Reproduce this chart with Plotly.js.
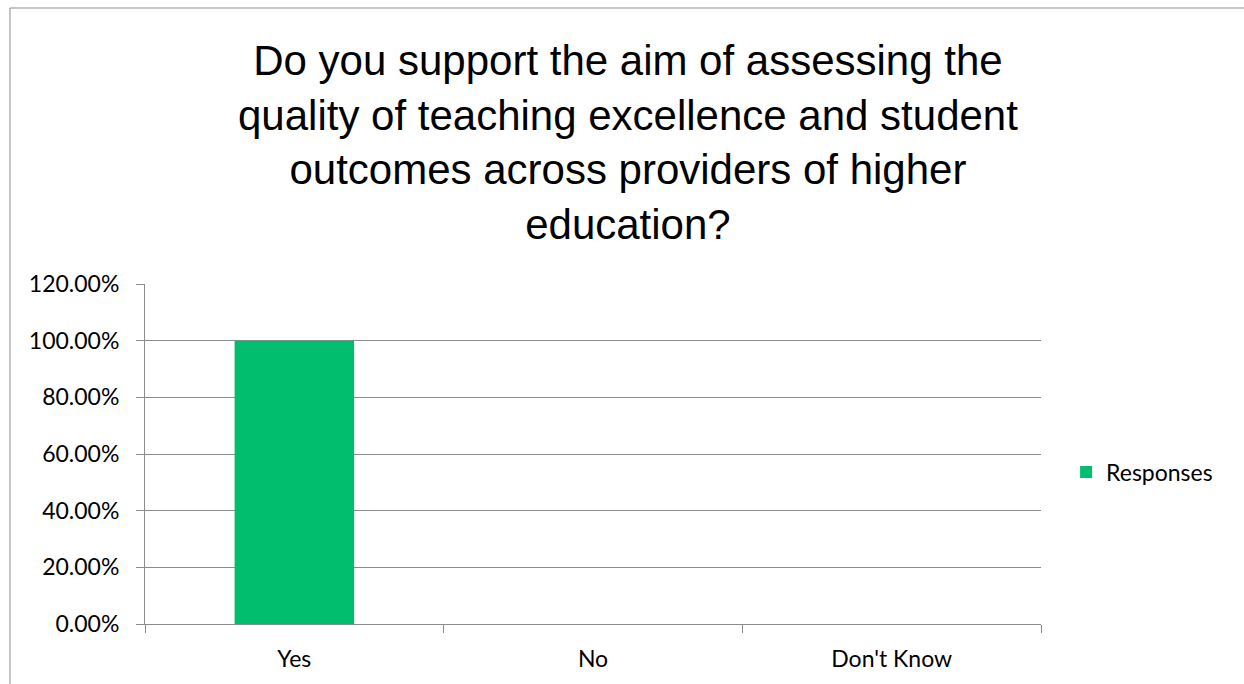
<!DOCTYPE html>
<html>
<head>
<meta charset="utf-8">
<script src="https://cdn.plot.ly/plotly-3.0.1.min.js"></script>
<style>
html,body{margin:0;padding:0;background:#fff;}
#chart{width:1244px;height:684px;}
</style>
</head>
<body>
<div id="chart"></div>
<script>
var categories = ["Yes", "No", "Don't Know"];
var responses = [1.0, 0, 0];
var seriesName = "Responses";
var yTicks = [0, 0.2, 0.4, 0.6, 0.8, 1.0, 1.2];
var chartTitle = "Do you support the aim of assessing the<br>quality of teaching excellence and student<br>outcomes across providers of higher<br>education?";

var gray = "#8c8c8c";
var tickFont = {family: "Lato, 'Open Sans', sans-serif", size: 23, color: "#000"};

var trace = {
  type: "bar",
  x: categories,
  y: responses,
  name: seriesName,
  marker: {color: "#00BE6E"},
  showlegend: true,
  hoverinfo: "x+y"
};

var layout = {
  width: 1244,
  height: 684,
  margin: {l: 145, r: 203, t: 284, b: 60, pad: 0},
  paper_bgcolor: "#fff",
  plot_bgcolor: "#fff",
  bargap: 0.6,
  title: {
    text: chartTitle,
    font: {family: "'Liberation Sans', Arial, sans-serif", size: 42, color: "#000"},
    x: 0.539,
    xanchor: "center",
    xref: "paper",
    y: 0.89,
    yanchor: "top",
    yref: "container"
  },
  xaxis: {
    type: "category",
    showline: true,
    linecolor: gray,
    linewidth: 1,
    ticks: "outside",
    tickson: "boundaries",
    ticklen: 8,
    tickcolor: gray,
    showgrid: false,
    tickfont: tickFont,
    ticklabelstandoff: 14,
    fixedrange: true
  },
  yaxis: {
    range: [0, 1.2],
    tickvals: yTicks,
    tickformat: ".2%",
    showline: true,
    linecolor: gray,
    linewidth: 1,
    ticks: "outside",
    ticklen: 8,
    tickcolor: gray,
    showgrid: true,
    gridcolor: gray,
    gridwidth: 1,
    zeroline: false,
    tickfont: tickFont,
    ticklabelstandoff: 12,
    fixedrange: true
  },
  legend: {
    x: 1.028,
    xanchor: "left",
    y: 0.447,
    yanchor: "middle",
    font: tickFont,
    itemwidth: 30,
    bgcolor: "rgba(0,0,0,0)"
  },
  shapes: [
    {type: "line", xref: "paper", yref: "paper", x0: -0.1507, x1: -0.1507, y0: 1.8118, y1: -0.2, line: {color: gray, width: 1}},
    {type: "line", xref: "paper", yref: "paper", x0: -0.1507, x1: 1.3, y0: 1.8118, y1: 1.8118, line: {color: gray, width: 1}}
  ]
};

Plotly.newPlot("chart", [trace], layout, {displayModeBar: false, staticPlot: true});
</script>
</body>
</html>
